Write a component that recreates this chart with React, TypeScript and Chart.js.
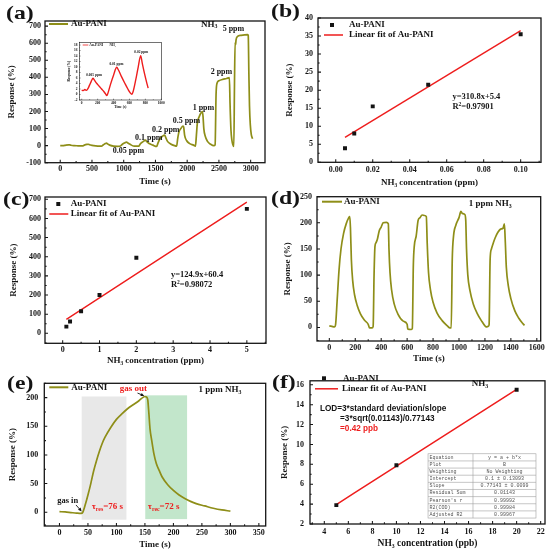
import { useEffect, useRef } from "react";
import { Chart, registerables } from "chart.js";

Chart.register(...registerables);

const SERIF = "'Liberation Serif', 'Times New Roman', serif";
const SANS = "'Liberation Sans', Arial, sans-serif";
const MONO = "'Liberation Mono', 'DejaVu Sans Mono', monospace";
const OLIVE = "#8e8e18";
const RED = "#ee1d1d";
const INK = "#141414";

// (a) response to stepped NH3 concentrations
const aTime = [
  0, 50, 80, 130, 150, 170, 220, 280, 350, 380,
  420, 445, 460, 500, 560, 620, 650, 680, 710, 730,
  745, 780, 840, 900, 950, 970, 1010, 1045, 1060, 1100,
  1150, 1200, 1240, 1260, 1300, 1345, 1360, 1400, 1460, 1519,
  1540, 1570, 1610, 1645, 1660, 1690, 1740, 1800, 1834, 1850,
  1870, 1900, 1935, 1945, 1960, 1990, 2040, 2100, 2130, 2145,
  2160, 2190, 2225, 2240, 2250, 2262, 2285, 2320, 2370, 2420,
  2440, 2455, 2470, 2500, 2560, 2620, 2665, 2675, 2690, 2705,
  2720, 2735, 2745, 2755, 2762, 2770, 2790, 2850, 2950, 2962,
  2972, 2982, 2995, 3010, 3030,
];
const aResp = [
  0, 0, 2, 4, 4, 2, 0, -1, -2, 3,
  7, 8, 5, 1, -2, -3, -3, 5, 12, 15,
  10, 3, -3, -4, -2, 5, 15, 21, 17, 8,
  -2, -3, -3, 10, 22, 32, 25, 12, 3, -5,
  15, 40, 55, 62, 50, 25, 10, 0, -3, 40,
  80, 100, 115, 108, 60, 30, 12, 3, -3, 60,
  130, 170, 195, 200, 170, 100, 55, 25, 8, 0,
  5, 300, 365, 380, 388, 393, 398, 250, 90, 30,
  5, -5, 350, 605, 590, 620, 638, 646, 650, 645,
  420, 230, 120, 65, 40,
];
const aTicksX = [0, 500, 1000, 1500, 2000, 2500, 3000];
const aTicksY = [-100, 0, 100, 200, 300, 400, 500, 600, 700];
const aConcLabels = ["0.05 ppm", "0.1 ppm", "0.2 ppm", "0.5 ppm", "1 ppm", "2 ppm", "5 ppm"];
const aConcX = [826, 1177, 1445, 1771, 2086, 2370, 2559];
const aConcY = [-29, 47, 92, 146, 222, 429, 682];

// inset of (a): lowest concentrations
const insetTime = [
  0, 20, 40, 60, 80, 100, 120, 143, 160, 190,
  220, 250, 280, 300, 316, 330, 360, 400, 440, 460,
  500, 540, 580, 610, 630, 650, 680, 710, 741, 760,
  790, 815, 835,
];
const insetResp = [
  1.6, 1.4, 1.8, 1.5, 2.2, 3.5, 4.8, 5.9, 5.2, 4.0,
  3.0, 2.0, 1.0, 0.2, -0.4, 0.5, 3.5, 7.0, 9.9, 9.0,
  6.5, 4.2, 2.0, 0.6, 0.1, 1.5, 5.5, 10.0, 14.1, 11.5,
  7.5, 4.5, 2.3,
];
const insetTicksX = [0, 200, 400, 600, 800, 1000];
const insetTicksY = [-2, 0, 2, 4, 6, 8, 10, 12, 14, 16, 18];
const insetLabels = ["0.005 ppm", "0.01 ppm", "0.02 ppm"];
const insetLabelX = [155, 436, 748];
const insetLabelY = [7.1, 11, 15.6];

// (b) low range calibration
const bConc = [0.005, 0.01, 0.02, 0.05, 0.1];
const bResp = [3.9, 8, 15.5, 21.5, 35.5];
const bFitX = [0.005, 0.1];
const bFitY = [6.9, 36.5];
const bTicksX = [0, 0.02, 0.04, 0.06, 0.08, 0.1];
const bTicksY = [0, 5, 10, 15, 20, 25, 30, 35, 40];

// (c) high range calibration
const cConc = [0.1, 0.2, 0.5, 1, 2, 5];
const cResp = [35, 62, 115, 200, 395, 650];
const cFitX = [0.1, 5];
const cFitY = [73, 685];
const cTicksX = [0, 1, 2, 3, 4, 5];
const cTicksY = [0, 100, 200, 300, 400, 500, 600, 700];

// (d) repeatability at 1 ppm
const dTime = [
  0, 20, 40, 48, 60, 75, 90, 110, 130, 150,
  158, 163, 170, 180, 195, 215, 240, 270, 300, 310,
  330, 338, 345, 352, 360, 370, 385, 400, 415, 440,
  455, 460, 468, 480, 500, 530, 570, 600, 605, 630,
  640, 648, 655, 670, 685, 700, 715, 735, 748, 755,
  765, 780, 800, 830, 870, 910, 930, 940, 948, 958,
  975, 1000, 1015, 1025, 1045, 1052, 1058, 1068, 1085, 1110,
  1140, 1175, 1200, 1210, 1225, 1232, 1240, 1250, 1265, 1280,
  1300, 1320, 1340, 1350, 1356, 1365, 1380, 1400, 1430, 1460,
  1490, 1505,
];
const dResp = [
  3, 2, 1, 5, 50, 110, 150, 180, 198, 210,
  212, 190, 130, 90, 62, 42, 26, 14, 6, -1,
  -1, 2, 100, 155, 162, 168, 185, 192, 200, 201,
  198, 150, 105, 72, 45, 25, 12, 6, -3, -4,
  -2, 120, 155, 175, 205, 210, 215, 214, 212, 160,
  105, 72, 48, 28, 13, 3, -1, -1, 130, 175,
  195, 210, 222, 218, 216, 205, 150, 100, 70, 45,
  27, 12, 3, 1, 2, 5, 130, 150, 162, 172,
  182, 188, 190, 198, 170, 115, 80, 55, 32, 18,
  8, 4,
];
const dTicksX = [0, 200, 400, 600, 800, 1000, 1200, 1400, 1600];
const dTicksY = [0, 50, 100, 150, 200, 250];

// (e) single response / recovery cycle
const eTime = [
  0, 10, 20, 30, 38, 41, 45, 50, 55, 60,
  65, 70, 75, 80, 90, 100, 110, 120, 130, 140,
  146, 150, 153, 155, 157, 159, 162, 166, 170, 175,
  180, 190, 200, 210, 220, 230, 240, 255, 270, 285,
  300,
];
const eResp = [
  1, 0.5, -0.5, -1.5, -2, 0, 12, 30, 50, 72,
  90, 106, 120, 131, 148, 162, 172, 181, 188, 195,
  200, 202, 201, 196, 172, 145, 125, 101, 85, 73,
  62, 48, 38, 30, 24, 19, 15, 11, 7, 4,
  2,
];
const eShadeFrom = [39, 150.6];
const eShadeTo = [117.5, 224];
const eShadeLow = [-13, -12];
const eShadeHigh = [202, 204];
const eTicksX = [0, 50, 100, 150, 200, 250, 300, 350];
const eTicksY = [0, 50, 100, 150, 200];

// (f) ppb range calibration
const fConc = [5, 10, 20];
const fResp = [3.9, 7.9, 15.5];
const fFitX = [5, 20];
const fFitY = [3.96, 15.53];
const fTicksX = [4, 6, 8, 10, 12, 14, 16, 18, 20, 22];
const fTicksY = [2, 4, 6, 8, 10, 12, 14, 16];
const fTableKeys = ["Equation", "Plot", "Weighting", "Intercept", "Slope", "Residual Sum", "Pearson's r", "R2(COD)", "Adjusted R2"];
const fTableVals = ["y = a + b*x", "B", "No Weighting", "0.1 \u00b1 0.13093", "0.77143 \u00b1 0.0099", "0.01143", "0.99992", "0.99984", "0.99967"];

function pts(xs: number[], ys: number[]) {
  return xs.map((x, i) => ({ x, y: ys[i] }));
}

function trace(xs: number[], ys: number[], color: string, width = 1.6) {
  return {
    data: pts(xs, ys),
    showLine: true,
    borderColor: color,
    borderWidth: width,
    pointRadius: 0,
    cubicInterpolationMode: "monotone",
    fill: false,
  };
}

function markers(xs: number[], ys: number[]) {
  return {
    data: pts(xs, ys),
    showLine: false,
    pointStyle: "rect",
    pointRadius: 2.8,
    backgroundColor: INK,
    borderColor: INK,
    borderWidth: 0,
  };
}

// text with _{sub} and ^{sup} parts
function drawRich(ctx: CanvasRenderingContext2D, text: string, x: number, y: number, size: number, family: string, color: string, align: string) {
  const parts: { t: string; mode: number }[] = [];
  const re = /([_^])\{([^}]*)\}/g;
  let last = 0;
  let m: RegExpExecArray | null;
  while ((m = re.exec(text))) {
    if (m.index > last) parts.push({ t: text.slice(last, m.index), mode: 0 });
    parts.push({ t: m[2], mode: m[1] === "_" ? 1 : 2 });
    last = re.lastIndex;
  }
  if (last < text.length) parts.push({ t: text.slice(last), mode: 0 });
  const fontOf = (mode: number) => `bold ${mode ? size * 0.65 : size}px ${family}`;
  let total = 0;
  for (const p of parts) {
    ctx.font = fontOf(p.mode);
    total += ctx.measureText(p.t).width;
  }
  let cx = align === "center" ? x - total / 2 : align === "right" ? x - total : x;
  ctx.fillStyle = color;
  ctx.textAlign = "left";
  ctx.textBaseline = "middle";
  for (const p of parts) {
    ctx.font = fontOf(p.mode);
    const dy = p.mode === 1 ? size * 0.3 : p.mode === 2 ? -size * 0.3 : 0;
    ctx.fillText(p.t, cx, y + dy);
    cx += ctx.measureText(p.t).width;
  }
}

function decoPlugin(d: any) {
  return {
    id: "deco",
    beforeDatasetsDraw(chart: any) {
      const { ctx } = chart;
      const xs = chart.scales.x;
      const ys = chart.scales.y;
      for (const s of d.shades || []) {
        const x0 = xs.getPixelForValue(s.x0);
        const x1 = xs.getPixelForValue(s.x1);
        const y0 = ys.getPixelForValue(s.y0);
        const y1 = ys.getPixelForValue(s.y1);
        ctx.save();
        ctx.fillStyle = s.color;
        ctx.fillRect(Math.min(x0, x1), Math.min(y0, y1), Math.abs(x1 - x0), Math.abs(y1 - y0));
        ctx.restore();
      }
    },
    afterDatasetsDraw(chart: any) {
      const { ctx, chartArea } = chart;
      const { left, top, right, bottom } = chartArea;
      const xs = chart.scales.x;
      const ys = chart.scales.y;
      ctx.save();

      // table (drawn before frame so the frame stays on top)
      if (d.table) {
        const t = d.table;
        const L = xs.getPixelForValue(t.x0);
        const R = xs.getPixelForValue(t.x1);
        const M = xs.getPixelForValue(t.xm);
        const T = ys.getPixelForValue(t.y0);
        const B = ys.getPixelForValue(t.y1);
        const n = t.keys.length;
        const rh = (B - T) / n;
        ctx.fillStyle = "#fff";
        ctx.fillRect(L, T, R - L, B - T);
        ctx.strokeStyle = "#a0a0a0";
        ctx.lineWidth = 0.6;
        ctx.strokeRect(L, T, R - L, B - T);
        ctx.beginPath();
        for (let i = 1; i < n; i++) {
          ctx.moveTo(L, T + i * rh);
          ctx.lineTo(R, T + i * rh);
        }
        ctx.moveTo(M, T);
        ctx.lineTo(M, B);
        ctx.stroke();
        ctx.font = `5px ${MONO}`;
        ctx.fillStyle = "#555";
        ctx.textBaseline = "middle";
        for (let i = 0; i < n; i++) {
          ctx.textAlign = "left";
          ctx.fillText(t.keys[i], L + 1.5, T + (i + 0.5) * rh);
          ctx.textAlign = "center";
          ctx.fillText(t.vals[i], (M + R) / 2, T + (i + 0.5) * rh);
        }
      }

      // frame with inward ticks on bottom and left
      const major = d.tick ?? 3;
      ctx.strokeStyle = INK;
      ctx.lineWidth = d.frame ?? 1.3;
      ctx.strokeRect(left, top, right - left, bottom - top);
      const marks = (scale: any) => {
        const v = scale.ticks.map((t: any) => t.value);
        const out: [number, number][] = v.map((val: number) => [val, major]);
        const step = v[1] - v[0];
        for (let k = -1; k < v.length; k++) {
          const mv = v[0] + (k + 0.5) * step;
          if (mv >= scale.min && mv <= scale.max) out.push([mv, major * 0.55]);
        }
        return out;
      };
      ctx.beginPath();
      for (const [v, len] of marks(xs)) {
        const px = xs.getPixelForValue(v);
        ctx.moveTo(px, bottom);
        ctx.lineTo(px, bottom - len);
      }
      for (const [v, len] of marks(ys)) {
        const py = ys.getPixelForValue(v);
        ctx.moveTo(left, py);
        ctx.lineTo(left + len, py);
      }
      ctx.lineWidth = (d.frame ?? 1.3) * 0.8;
      ctx.stroke();

      // arrows
      for (const a of d.arrows || []) {
        const x1 = xs.getPixelForValue(a.x1);
        const y1 = ys.getPixelForValue(a.y1);
        const x2 = xs.getPixelForValue(a.x2);
        const y2 = ys.getPixelForValue(a.y2);
        const ang = Math.atan2(y2 - y1, x2 - x1);
        ctx.strokeStyle = a.color;
        ctx.fillStyle = a.color;
        ctx.lineWidth = 0.9;
        ctx.beginPath();
        ctx.moveTo(x1, y1);
        ctx.lineTo(x2 - 2.5 * Math.cos(ang), y2 - 2.5 * Math.sin(ang));
        ctx.stroke();
        ctx.beginPath();
        ctx.moveTo(x2, y2);
        ctx.lineTo(x2 - 4 * Math.cos(ang - 0.45), y2 - 4 * Math.sin(ang - 0.45));
        ctx.lineTo(x2 - 4 * Math.cos(ang + 0.45), y2 - 4 * Math.sin(ang + 0.45));
        ctx.closePath();
        ctx.fill();
      }

      // legend, placed relative to the plot corner
      const lsize = d.legendSize ?? 9;
      for (const it of d.legend || []) {
        const yy = top + it.dy;
        if (it.kind === "line") {
          ctx.strokeStyle = it.color;
          ctx.lineWidth = it.width ?? 2;
          ctx.beginPath();
          ctx.moveTo(left + it.dx, yy);
          ctx.lineTo(left + it.dx + it.len, yy);
          ctx.stroke();
        } else {
          const s = it.side ?? 4;
          ctx.fillStyle = it.color;
          ctx.fillRect(left + it.dx - s / 2, yy - s / 2, s, s);
        }
        drawRich(ctx, it.text, left + it.tx, yy, lsize, SERIF, INK, "left");
      }

      // notes in data coordinates
      for (const n of d.notes || []) {
        drawRich(ctx, n.text, xs.getPixelForValue(n.x), ys.getPixelForValue(n.y), n.size ?? 8.5, n.family ?? SERIF, n.color ?? INK, n.align ?? "left");
      }
      ctx.restore();
    },
  };
}

function axis(a: any, horizontal: boolean, size: number) {
  return {
    type: "linear",
    bounds: "data",
    min: a.min,
    max: a.max,
    afterFit: (scale: any) => {
      if (horizontal) scale.height = size;
      else scale.width = size;
    },
    afterBuildTicks: (scale: any) => {
      scale.ticks = a.ticks.map((v: number) => ({ value: v }));
    },
    grid: { display: false, drawTicks: false },
    border: { display: false },
    ticks: {
      autoSkip: false,
      maxRotation: 0,
      padding: a.tickPad,
      color: INK,
      font: { family: SERIF, weight: "bold", size: a.tickSize ?? 8 },
      callback: (v: any) => Number(v).toFixed(a.digits ?? 0),
    },
    title: {
      display: true,
      text: a.title,
      color: INK,
      font: { family: SERIF, weight: "bold", size: a.titleSize ?? 9, lineHeight: 1.2 },
      padding: horizontal ? { top: 0, bottom: 0 } : { top: a.titlePad, bottom: 0 },
    },
  };
}

function makeConfig(s: any) {
  const [bl, bt, bw, bh] = s.box;
  const [al, at, ar, ab] = s.area;
  return {
    type: "scatter",
    data: { datasets: s.datasets },
    options: {
      responsive: false,
      animation: false,
      events: [],
      layout: { padding: { left: 0, bottom: 0, top: at - bt, right: bl + bw - ar } },
      plugins: { legend: { display: false }, tooltip: { enabled: false } },
      scales: {
        x: axis(s.x, true, bt + bh - ab),
        y: axis(s.y, false, al - bl),
      },
    },
    plugins: [decoPlugin(s.deco)],
  };
}

const panels: any[] = [
  {
    id: "a",
    box: [0, 0, 275, 187],
    area: [45, 21, 265, 162.7],
    x: { min: -240, max: 3226, ticks: aTicksX, title: "Time (s)", tickPad: 1 },
    y: { min: -100, max: 730, ticks: aTicksY, title: "Response (%)", tickPad: 4, titlePad: 6.6 },
    datasets: [trace(aTime, aResp, OLIVE, 1.7)],
    deco: {
      legend: [{ kind: "line", color: OLIVE, dx: 4, dy: 3, len: 19, tx: 26, text: "Au-PANI" }],
      notes: [
        { x: 2217, y: 711, text: "NH_{3}", size: 9 },
        ...aConcLabels.map((t, i) => ({ x: aConcX[i], y: aConcY[i], text: t, size: 8 })),
      ],
    },
  },
  {
    id: "inset",
    box: [64, 38, 102, 71],
    area: [79.3, 42.3, 161.7, 100],
    x: { min: -30, max: 1000, ticks: insetTicksX, title: "Time (s)", tickPad: 1.2, tickSize: 3.5, titleSize: 3.5 },
    y: { min: -2, max: 19, ticks: insetTicksY, title: "Response (%)", tickPad: 1.8, titlePad: 3.2, tickSize: 3.5, titleSize: 3.5 },
    datasets: [trace(insetTime, insetResp, RED, 1.4)],
    deco: {
      frame: 0.6,
      tick: 1.3,
      legendSize: 3.5,
      legend: [{ kind: "line", color: RED, dx: 3.4, dy: 2.7, len: 5.6, tx: 10, width: 0.8, text: "Au-PANI" }],
      notes: [
        { x: 350, y: 18, text: "NH_{3}", size: 3.5 },
        ...insetLabels.map((t, i) => ({ x: insetLabelX[i], y: insetLabelY[i], text: t, size: 3.5, align: "center" })),
      ],
    },
  },
  {
    id: "b",
    box: [275, 0, 275, 188],
    area: [318, 18, 541, 162.3],
    x: { min: -0.0096, max: 0.111, ticks: bTicksX, digits: 2, title: "NH\u2083 concentration (ppm)", tickPad: 3 },
    y: { min: 0, max: 40, ticks: bTicksY, title: "Response (%)", tickPad: 5, titlePad: 9.6 },
    datasets: [markers(bConc, bResp), trace(bFitX, bFitY, RED, 1.4)],
    deco: {
      legend: [
        { kind: "square", color: INK, dx: 14, dy: 7, tx: 31, text: "Au-PANI" },
        { kind: "line", color: RED, dx: 6, dy: 17, len: 19, tx: 31, width: 1.5, text: "Linear fit of Au-PANI" },
      ],
      notes: [
        { x: 0.0631, y: 18.1, text: "y=310.8x+5.4" },
        { x: 0.0631, y: 15.4, text: "R^{2}=0.97901" },
      ],
    },
  },
  {
    id: "c",
    box: [0, 185, 275, 181],
    area: [45, 197, 266, 343.3],
    x: { min: -0.48, max: 5.52, ticks: cTicksX, title: "NH\u2083 concentration (ppm)", tickPad: 2 },
    y: { min: -52, max: 712, ticks: cTicksY, title: "Response (%)", tickPad: 4, titlePad: 7.9 },
    datasets: [markers(cConc, cResp), trace(cFitX, cFitY, RED, 1.4)],
    deco: {
      legend: [
        { kind: "square", color: INK, dx: 13.3, dy: 7, tx: 25.7, text: "Au-PANI" },
        { kind: "line", color: RED, dx: 4.3, dy: 17, len: 19, tx: 25.7, width: 1.5, text: "Linear fit of Au-PANI" },
      ],
      notes: [
        { x: 2.94, y: 304, text: "y=124.9x+60.4" },
        { x: 2.94, y: 252, text: "R^{2}=0.98072" },
      ],
    },
  },
  {
    id: "d",
    box: [275, 185, 275, 179],
    area: [317, 196.7, 540.7, 341],
    x: { min: -95, max: 1630, ticks: dTicksX, title: "Time (s)", tickPad: 2.5 },
    y: { min: -26, max: 250, ticks: dTicksY, title: "Response (%)", tickPad: 5, titlePad: 7.3 },
    datasets: [trace(dTime, dResp, OLIVE, 1.7)],
    deco: {
      legend: [{ kind: "line", color: OLIVE, dx: 5, dy: 5, len: 20, tx: 27, text: "Au-PANI" }],
      notes: [{ x: 1076, y: 237, text: "1 ppm NH_{3}", size: 9 }],
    },
  },
  {
    id: "e",
    box: [0, 370, 275, 180],
    area: [44.3, 383.3, 265.7, 526],
    x: { min: -26.6, max: 362, ticks: eTicksX, title: "Time (s)", tickPad: 2.5 },
    y: { min: -24, max: 225, ticks: eTicksY, title: "Response (%)", tickPad: 6, titlePad: 7.3 },
    datasets: [trace(eTime, eResp, OLIVE, 1.7)],
    deco: {
      shades: eShadeFrom.map((x0, i) => ({
        x0,
        x1: eShadeTo[i],
        y0: eShadeLow[i],
        y1: eShadeHigh[i],
        color: i === 0 ? "rgba(226,226,226,0.8)" : "#c2e6cb",
      })),
      legend: [{ kind: "line", color: OLIVE, dx: 5, dy: 4, len: 19, tx: 27, text: "Au-PANI" }],
      arrows: [
        { x1: 29, y1: 12.7, x2: 39, y2: 1.5, color: INK },
        { x1: 137, y1: 208, x2: 149, y2: 203, color: INK },
      ],
      notes: [
        { x: -4, y: 20, text: "gas in" },
        { x: 106, y: 216, text: "gas out", color: RED, size: 9 },
        { x: 244, y: 214, text: "1 ppm NH_{3}", size: 9 },
        { x: 56.5, y: 9.7, text: "\u03c4_{res}=76 s", color: RED, size: 9 },
        { x: 155, y: 9.7, text: "\u03c4_{rec}=72 s", color: RED, size: 9 },
      ],
    },
  },
  {
    id: "f",
    box: [275, 370, 275, 179],
    area: [310, 379.3, 545, 524],
    x: { min: 2.81, max: 22.36, ticks: fTicksX, title: "NH\u2083 concentration (ppb)", tickPad: 3, titleSize: 9.5 },
    y: { min: 2, max: 16.4, ticks: fTicksY, title: "Response (%)", tickPad: 6, titlePad: 4.6 },
    datasets: [markers(fConc, fResp), trace(fFitX, fFitY, RED, 1.5)],
    deco: {
      legend: [
        { kind: "square", color: INK, dx: 14, dy: -2.5, tx: 33, text: "Au-PANI" },
        { kind: "line", color: RED, dx: 5, dy: 8, len: 23, tx: 32, width: 1.5, text: "Linear fit of Au-PANI" },
      ],
      notes: [
        { x: 16.26, y: 16.1, text: "NH_{3}", size: 9 },
        { x: 3.64, y: 13.61, text: "LOD=3*standard deviation/slope", family: SANS, size: 8.2 },
        { x: 5.31, y: 12.58, text: "=3*sqrt(0.01143)/0.77143", family: SANS, size: 8.2 },
        { x: 5.31, y: 11.62, text: "=0.42 ppb", family: SANS, size: 8.2, color: RED },
      ],
      table: { x0: 12.63, x1: 21.61, xm: 16.37, y0: 9.06, y1: 2.6, keys: fTableKeys, vals: fTableVals },
    },
  },
];

const panelLabels = [
  { text: "(a)", left: 6, top: 3 },
  { text: "(b)", left: 271, top: 1 },
  { text: "(c)", left: 3, top: 189 },
  { text: "(d)", left: 271, top: 187.5 },
  { text: "(e)", left: 7, top: 372.5 },
  { text: "(f)", left: 272, top: 372 },
];

function PanelChart({ spec }: { spec: any }) {
  const ref = useRef<HTMLCanvasElement>(null);
  useEffect(() => {
    if (!ref.current) return;
    const chart = new Chart(ref.current, makeConfig(spec) as any);
    return () => chart.destroy();
  }, [spec]);
  const [left, top, width, height] = spec.box;
  return (
    <canvas
      ref={ref}
      width={width}
      height={height}
      style={{ position: "absolute", left, top, width, height }}
    />
  );
}

export default function App() {
  return (
    <div style={{ position: "absolute", left: 0, top: 0, width: 550, height: 553, background: "#fff", overflow: "hidden" }}>
      {panels.map((p) => (
        <PanelChart key={p.id} spec={p} />
      ))}
      {panelLabels.map((l) => (
        <div
          key={l.text}
          style={{
            position: "absolute",
            left: l.left,
            top: l.top,
            fontFamily: SERIF,
            fontWeight: "bold",
            fontSize: 19,
            lineHeight: "19px",
            color: INK,
            transform: "scaleX(1.25)",
            transformOrigin: "left top",
          }}
        >
          {l.text}
        </div>
      ))}
    </div>
  );
}
